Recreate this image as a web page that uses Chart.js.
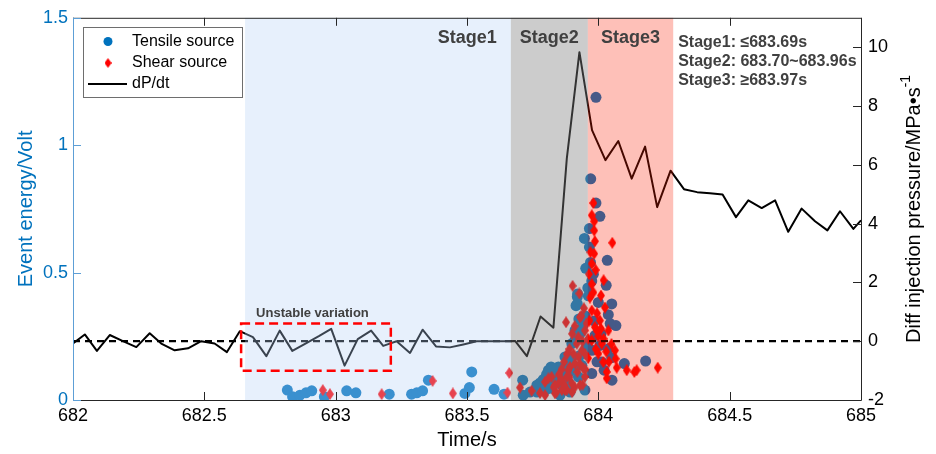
<!DOCTYPE html>
<html>
<head>
<meta charset="utf-8">
<script src="https://cdn.jsdelivr.net/npm/chart.js@4.4.1/dist/chart.umd.min.js"></script>
<style>
  html, body { margin:0; padding:0; background:#fff; }
  #wrap { width:936px; height:454px; position:relative; }
</style>
</head>
<body>
<div id="wrap"><canvas id="c"></canvas></div>
<script>
// ── data ───────────────────────────────────────────────────
const dpTime = [682.000, 682.045, 682.091, 682.140, 682.190, 682.241, 682.292, 682.336, 682.387, 682.438,
  682.488, 682.539, 682.586, 682.635, 682.685, 682.736, 682.787, 682.835, 682.885, 682.936,
  682.983, 683.034, 683.084, 683.135, 683.181, 683.232, 683.283, 683.331, 683.382, 683.435,
  683.486, 683.537, 683.588, 683.638, 683.683, 683.728, 683.780, 683.829, 683.880, 683.928,
  683.976, 684.027, 684.076, 684.127, 684.178, 684.224, 684.275, 684.326, 684.376, 684.425,
  684.473, 684.524, 684.571, 684.622, 684.673, 684.723, 684.774, 684.825, 684.872, 684.920,
  684.971, 685.000];
const dpValue = [-0.08, 0.23, -0.33, 0.21, 0.00, -0.20, 0.27, -0.08, -0.31, -0.24,
  0.00, -0.08, -0.37, 0.34, 0.14, -0.51, 0.36, -0.33, -0.08, 0.17,
  0.42, -0.83, 0.07, 0.36, -0.16, 0.00, -0.40, 0.39, -0.18, -0.21,
  -0.11, 0.00, 0.00, 0.00, 0.01, -0.51, 0.84, 0.46, 6.22, 9.83,
  7.18, 6.16, 6.81, 5.53, 6.62, 4.56, 5.80, 5.17, 5.07, 5.03,
  4.99, 4.22, 4.79, 4.53, 4.79, 3.72, 4.51, 4.08, 3.77, 4.42,
  3.82, 4.11];

const tensileTime = [682.816, 682.836, 682.864, 682.887, 682.909, 682.957, 683.042, 683.077, 683.204, 683.289,
  683.309, 683.331, 683.353, 683.492, 683.509, 683.518, 683.603, 683.641, 683.712, 683.714,
  683.740, 683.766, 683.778, 683.803, 683.810, 683.822, 683.822, 683.848, 683.854, 683.861,
  683.873, 683.873, 683.889, 683.899, 683.905, 683.911, 683.911, 683.915, 683.920, 683.920,
  683.921, 683.924, 683.926, 683.930, 683.937, 683.942, 683.947, 683.949, 683.952, 683.957,
  683.962, 683.966, 683.966, 683.971, 683.975, 683.975, 683.976, 683.981, 683.987, 683.991,
  683.991, 684.000, 684.006, 684.006, 684.013, 684.022, 684.034, 684.038, 684.038, 684.051,
  684.051, 684.052, 684.067, 684.099, 684.180, 683.766, 683.854, 683.892,
  683.830, 683.840, 683.860, 683.870, 683.880, 683.890, 683.900, 683.930, 683.940, 683.950,
  683.960, 683.970, 683.985, 683.995, 684.010, 684.030, 684.045, 683.800, 683.790, 683.820];
const tensileEnergy = [0.039, 0.013, 0.019, 0.028, 0.036, 0.013, 0.036, 0.028, 0.023, 0.023,
  0.028, 0.036, 0.078, 0.026, 0.049, 0.110, 0.042, 0.023, 0.078, 0.019,
  0.031, 0.058, 0.067, 0.101, 0.117, 0.046, 0.065, 0.130, 0.019, 0.058,
  0.169, 0.052, 0.065, 0.221, 0.130, 0.234, 0.273, 0.370, 0.405, 0.377,
  0.416, 0.091, 0.318, 0.175, 0.136, 0.312, 0.634, 0.039, 0.517, 0.214,
  0.409, 0.673, 0.600, 0.868, 0.467, 0.104, 0.195, 0.494, 0.253, 1.188,
  0.773, 0.383, 0.721, 0.214, 0.149, 0.117, 0.548, 0.335, 0.201, 0.377,
  0.166, 0.078, 0.292, 0.143, 0.153, 0.031, 0.078, 0.031,
  0.090, 0.110, 0.100, 0.130, 0.160, 0.110, 0.170, 0.260, 0.290, 0.330,
  0.440, 0.540, 0.310, 0.150, 0.260, 0.450, 0.300, 0.040, 0.080, 0.130];

const shearTime = [682.951, 682.978, 683.175, 683.369, 683.446, 683.654, 683.661, 683.702, 683.746, 683.778,
  683.797, 683.797, 683.810, 683.822, 683.835, 683.835, 683.848, 683.861, 683.873, 683.877,
  683.880, 683.886, 683.892, 683.899, 683.900, 683.902, 683.905, 683.911, 683.918, 683.924,
  683.924, 683.928, 683.930, 683.930, 683.937, 683.942, 683.949, 683.949, 683.961, 683.964,
  683.966, 683.968, 683.975, 683.975, 683.975, 683.975, 683.975, 683.981, 683.981, 683.984,
  683.984, 683.984, 683.987, 683.987, 683.994, 684.000, 684.006, 684.013, 684.019, 684.025,
  684.032, 684.032, 684.038, 684.053, 684.063, 684.066, 684.070, 684.108, 684.137, 684.146,
  684.226,
  683.850, 683.860, 683.870, 683.880, 683.890, 683.900, 683.910, 683.920, 683.930, 683.940,
  683.950, 683.955, 683.860, 683.870, 683.880, 683.890, 683.910, 683.940, 683.950, 683.830,
  683.840, 683.945, 683.935, 683.960, 683.990, 684.000, 684.010, 684.020, 684.030, 684.040,
  684.050, 683.995, 684.010, 684.020, 683.970, 683.990];
const shearEnergy = [0.039, 0.023, 0.023, 0.075, 0.026, 0.029, 0.106, 0.049, 0.036, 0.027,
  0.019, 0.071, 0.085, 0.091, 0.058, 0.026, 0.065, 0.039, 0.039, 0.305,
  0.091, 0.117, 0.130, 0.065, 0.031, 0.448, 0.182, 0.143, 0.221, 0.169,
  0.247, 0.418, 0.325, 0.058, 0.195, 0.125, 0.273, 0.091, 0.164, 0.494,
  0.312, 0.402, 0.725, 0.535, 0.455, 0.351, 0.234, 0.773, 0.422, 0.701,
  0.665, 0.574, 0.623, 0.286, 0.273, 0.182, 0.312, 0.221, 0.149, 0.363,
  0.110, 0.085, 0.273, 0.617, 0.195, 0.162, 0.127, 0.117, 0.110, 0.117,
  0.127,
  0.100, 0.120, 0.150, 0.180, 0.200, 0.260, 0.290, 0.110, 0.140, 0.230,
  0.180, 0.300, 0.080, 0.060, 0.040, 0.090, 0.050, 0.060, 0.120, 0.050,
  0.030, 0.360, 0.330, 0.240, 0.200, 0.250, 0.280, 0.240, 0.190, 0.150,
  0.220, 0.340, 0.410, 0.470, 0.580, 0.510];

const xTicks = [682, 682.5, 683, 683.5, 684, 684.5, 685];
const energyTicks = [0, 0.5, 1, 1.5];
const pressureTicks = [-2, 0, 2, 4, 6, 8, 10];
const zeroLine = [682, 685];

// stage boundaries (s) and labels
const stageEdges = [682.655, 683.667, 683.96, 684.285];
const stageNames = ['Stage1', 'Stage2', 'Stage3'];
const stageNotes = ['Stage1: \u2264683.69s', 'Stage2: 683.70~683.96s', 'Stage3: \u2265683.97s'];
const unstableBox = { t0: 682.64, t1: 683.21, e0: 0.115, e1: 0.30 };

// ── styling ───────────────────────────────────────────────
const FONT = "'Liberation Sans', Arial, Helvetica, sans-serif";
const BLUE = '#0072BD';
const BLUE_AXIS = '#5d9fd6';
const DARK = '#262626';
const bandColors = ['rgba(181,208,245,0.32)', 'rgba(128,128,128,0.4)', 'rgba(250,30,0,0.28)'];

function diamond(w, h, color) {
  const c = document.createElement('canvas');
  c.width = w; c.height = h;
  const g = c.getContext('2d');
  g.fillStyle = color;
  g.beginPath();
  g.moveTo(w / 2, 0); g.lineTo(w, h / 2); g.lineTo(w / 2, h); g.lineTo(0, h / 2);
  g.closePath(); g.fill();
  return c;
}

const pairs = (xs, ys) => xs.map((x, i) => ({ x, y: ys[i] }));

const extras = {
  id: 'extras',
  afterDatasetsDraw(chart) {
    const { ctx, chartArea: a, scales: { x, y } } = chart;
    ctx.save();

    // stage bands lie over the marks, semi transparent
    bandColors.forEach((col, i) => {
      const x0 = x.getPixelForValue(stageEdges[i]);
      const x1 = x.getPixelForValue(stageEdges[i + 1]);
      ctx.fillStyle = col;
      ctx.fillRect(x0, a.top, x1 - x0, a.bottom - a.top);
    });

    // unstable variation box
    const bx0 = x.getPixelForValue(unstableBox.t0), bx1 = x.getPixelForValue(unstableBox.t1);
    const by0 = y.getPixelForValue(unstableBox.e1), by1 = y.getPixelForValue(unstableBox.e0);
    ctx.strokeStyle = '#ff0000';
    ctx.lineWidth = 2.5;
    ctx.setLineDash([9, 5]);
    ctx.strokeRect(bx0, by0, bx1 - bx0, by1 - by0);
    ctx.setLineDash([]);
    ctx.fillStyle = '#404040';
    ctx.font = 'bold 13px ' + FONT;
    ctx.textAlign = 'left';
    ctx.textBaseline = 'alphabetic';
    ctx.fillText('Unstable variation', bx0 + 15, by0 - 7);

    // stage titles
    ctx.font = 'bold 18px ' + FONT;
    const e = stageEdges.map(v => x.getPixelForValue(v));
    ctx.textAlign = 'right';
    ctx.fillText(stageNames[0], e[1] - 14, a.top + 25);
    ctx.textAlign = 'center';
    ctx.fillText(stageNames[1], (e[1] + e[2]) / 2, a.top + 25);
    ctx.fillText(stageNames[2], (e[2] + e[3]) / 2, a.top + 25);

    // stage notes
    ctx.font = 'bold 16px ' + FONT;
    ctx.textAlign = 'left';
    stageNotes.forEach((s, i) => ctx.fillText(s, e[3] + 5, a.top + 29 + i * 19));

    // box and inward ticks
    ctx.lineWidth = 1;
    ctx.strokeStyle = DARK;
    ctx.beginPath();
    ctx.moveTo(a.left, a.top + 0.5); ctx.lineTo(a.right + 0.5, a.top + 0.5);
    ctx.lineTo(a.right + 0.5, a.bottom + 0.5); ctx.lineTo(a.left, a.bottom + 0.5);
    xTicks.forEach(v => {
      const px = Math.round(x.getPixelForValue(v)) + 0.5;
      ctx.moveTo(px, a.bottom); ctx.lineTo(px, a.bottom - 8);
      ctx.moveTo(px, a.top); ctx.lineTo(px, a.top + 8);
    });
    const y2 = chart.scales.y2;
    pressureTicks.forEach(v => {
      const py = Math.round(y2.getPixelForValue(v)) + 0.5;
      ctx.moveTo(a.right, py); ctx.lineTo(a.right - 8, py);
    });
    ctx.stroke();
    ctx.strokeStyle = BLUE_AXIS;
    ctx.beginPath();
    ctx.moveTo(a.left + 0.5, a.top); ctx.lineTo(a.left + 0.5, a.bottom + 1);
    energyTicks.forEach(v => {
      const py = Math.round(y.getPixelForValue(v)) + 0.5;
      ctx.moveTo(a.left, py); ctx.lineTo(a.left + 8, py);
    });
    ctx.stroke();

    // legend
    ctx.fillStyle = '#fff';
    ctx.fillRect(83, 27, 159, 70);
    ctx.strokeStyle = '#6e6e6e';
    ctx.strokeRect(83.5, 27.5, 159, 70);
    ctx.fillStyle = BLUE;
    ctx.beginPath(); ctx.arc(108, 41.5, 4.5, 0, Math.PI * 2); ctx.fill();
    ctx.drawImage(diamond(7, 10, '#ff0000'), 104.5, 58);
    ctx.strokeStyle = '#000';
    ctx.lineWidth = 2;
    ctx.beginPath(); ctx.moveTo(88, 84); ctx.lineTo(127, 84); ctx.stroke();
    ctx.fillStyle = '#000';
    ctx.font = '16px ' + FONT;
    ctx.textBaseline = 'middle';
    ctx.fillText('Tensile source', 132, 42);
    ctx.fillText('Shear source', 132, 63);
    ctx.fillText('dP/dt', 132, 84);

    // axis titles
    ctx.font = '20px ' + FONT;
    ctx.textAlign = 'center';
    ctx.fillText('Time/s', (a.left + a.right) / 2, 440);
    ctx.save();
    ctx.translate(26, (a.top + a.bottom) / 2);
    ctx.rotate(-Math.PI / 2);
    ctx.fillStyle = BLUE;
    ctx.fillText('Event energy/Volt', 0, 0);
    ctx.restore();
    ctx.save();
    ctx.translate(914, (a.top + a.bottom) / 2);
    ctx.rotate(-Math.PI / 2);
    ctx.fillStyle = '#000';
    const main = 'Diff injection pressure/MPa\u2022s', sup = '-1';
    const w1 = ctx.measureText(main).width;
    ctx.font = '14px ' + FONT;
    const w2 = ctx.measureText(sup).width;
    const start = -(w1 + w2) / 2;
    ctx.textAlign = 'left';
    ctx.fillText(sup, start + w1, -8);
    ctx.font = '20px ' + FONT;
    ctx.fillText(main, start, 0);
    ctx.restore();

    ctx.restore();
  }
};

new Chart(document.getElementById('c'), {
  type: 'scatter',
  data: {
    datasets: [
      { label: 'dP/dt', data: pairs(dpTime, dpValue), yAxisID: 'y2', showLine: true,
        borderColor: '#000', borderWidth: 2, pointRadius: 0, borderJoinStyle: 'round', order: 0 },
      { label: 'zero', data: pairs(zeroLine, [0, 0]), yAxisID: 'y2', showLine: true,
        borderColor: '#000', borderWidth: 2.2, borderDash: [7, 5], pointRadius: 0, order: 0 },
      { label: 'Shear source', data: pairs(shearTime, shearEnergy), yAxisID: 'y',
        pointStyle: diamond(8, 12, '#ff0000'), pointRadius: 6, order: 1 },
      { label: 'Tensile source', data: pairs(tensileTime, tensileEnergy), yAxisID: 'y',
        pointStyle: 'circle', pointRadius: 5.5, backgroundColor: BLUE, borderWidth: 0, order: 2 }
    ]
  },
  options: {
    responsive: true, maintainAspectRatio: false, animation: false,
    layout: { padding: { top: 15, left: 0, right: 0, bottom: 0 } },
    plugins: { legend: { display: false }, tooltip: { enabled: false } },
    scales: {
      x: {
        type: 'linear', position: 'bottom', min: 682, max: 685,
        afterFit: s => { s.height = 54; },
        afterBuildTicks: s => { s.ticks = xTicks.map(v => ({ value: v })); },
        grid: { display: false, drawTicks: false }, border: { display: false },
        ticks: { color: '#000', font: { family: FONT, size: 18 }, padding: 5,
                 maxRotation: 0, autoSkip: false, callback: v => String(v) }
      },
      y: {
        position: 'left', min: 0, max: 1.5,
        afterFit: s => { s.width = 73; },
        afterBuildTicks: s => { s.ticks = energyTicks.map(v => ({ value: v })); },
        grid: { display: false, drawTicks: false }, border: { display: false },
        ticks: { color: BLUE, font: { family: FONT, size: 18 }, padding: 5, callback: v => String(v) }
      },
      y2: {
        position: 'right', min: -2, max: 11,
        afterFit: s => { s.width = 75; },
        afterBuildTicks: s => { s.ticks = pressureTicks.map(v => ({ value: v })); },
        grid: { display: false, drawTicks: false }, border: { display: false },
        ticks: { color: '#000', font: { family: FONT, size: 18 }, padding: 7, callback: v => String(v) }
      }
    }
  },
  plugins: [extras]
});
</script>
</body>
</html>
